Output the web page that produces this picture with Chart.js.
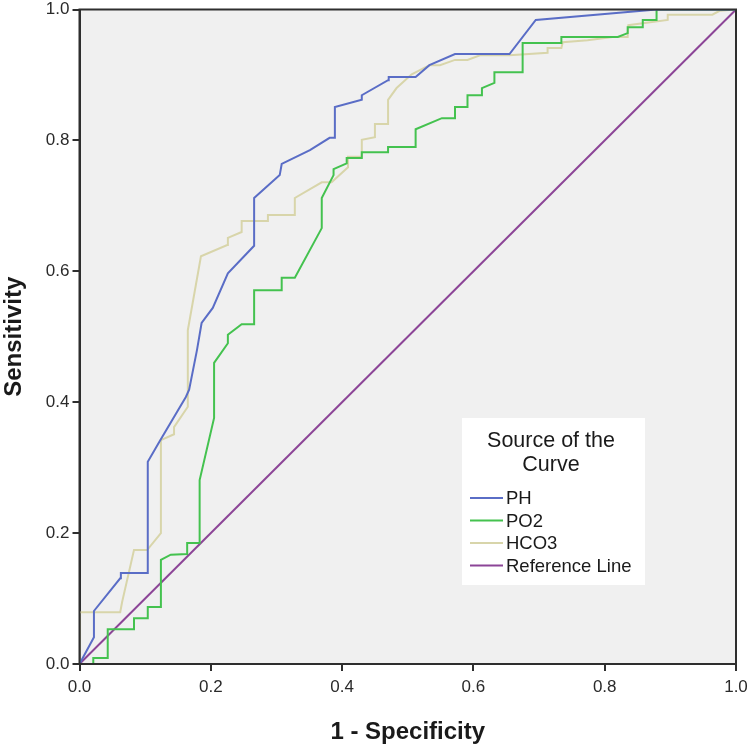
<!DOCTYPE html>
<html>
<head>
<meta charset="utf-8">
<script src="https://cdn.jsdelivr.net/npm/chart.js@4.4.1/dist/chart.umd.min.js"></script>
<style>
  html, body { margin: 0; padding: 0; background: #ffffff; }
  #wrap { width: 750px; height: 747px; position: relative; }
</style>
</head>
<body>
<div id="wrap"><canvas id="c" width="750" height="747"></canvas></div>
<script>
// ---- Data ----
const xTicks = [0.0, 0.2, 0.4, 0.6, 0.8, 1.0];
const yTicks = [0.0, 0.2, 0.4, 0.6, 0.8, 1.0];
const seriesNames = ["PH", "PO2", "HCO3", "Reference Line"];

const phX = [0, 0.022, 0.022, 0.062, 0.063, 0.104, 0.104, 0.123, 0.162, 0.167, 0.179, 0.186, 0.203, 0.226, 0.266, 0.266, 0.305, 0.308, 0.351, 0.381, 0.389, 0.389, 0.430, 0.430, 0.470, 0.471, 0.512, 0.533, 0.572, 0.655, 0.695, 0.879, 1.0];
const phY = [0, 0.041, 0.081, 0.131, 0.139, 0.139, 0.309, 0.342, 0.408, 0.419, 0.480, 0.521, 0.544, 0.597, 0.639, 0.712, 0.747, 0.764, 0.785, 0.804, 0.804, 0.851, 0.862, 0.869, 0.892, 0.897, 0.897, 0.915, 0.932, 0.932, 0.984, 1.0, 1.0];

const po2X = [0, 0.021, 0.021, 0.043, 0.043, 0.083, 0.083, 0.104, 0.104, 0.124, 0.124, 0.139, 0.164, 0.164, 0.183, 0.183, 0.205, 0.205, 0.226, 0.226, 0.247, 0.266, 0.266, 0.308, 0.308, 0.328, 0.369, 0.369, 0.387, 0.387, 0.407, 0.407, 0.430, 0.430, 0.470, 0.470, 0.512, 0.512, 0.552, 0.572, 0.572, 0.591, 0.591, 0.613, 0.613, 0.632, 0.632, 0.675, 0.675, 0.734, 0.734, 0.820, 0.835, 0.835, 0.858, 0.858, 0.879, 0.879, 1.0];
const po2Y = [0, 0, 0.009, 0.009, 0.053, 0.053, 0.070, 0.070, 0.087, 0.087, 0.159, 0.167, 0.168, 0.185, 0.185, 0.281, 0.376, 0.460, 0.490, 0.503, 0.519, 0.519, 0.571, 0.571, 0.590, 0.590, 0.666, 0.712, 0.747, 0.756, 0.765, 0.773, 0.773, 0.782, 0.782, 0.790, 0.790, 0.817, 0.834, 0.834, 0.851, 0.851, 0.869, 0.869, 0.880, 0.888, 0.904, 0.904, 0.949, 0.949, 0.958, 0.958, 0.964, 0.973, 0.973, 0.984, 0.984, 1.0, 1.0];

const hco3X = [0, 0, 0.062, 0.065, 0.083, 0.103, 0.124, 0.124, 0.144, 0.144, 0.165, 0.165, 0.185, 0.225, 0.226, 0.247, 0.247, 0.287, 0.287, 0.328, 0.328, 0.369, 0.384, 0.409, 0.409, 0.430, 0.430, 0.450, 0.450, 0.470, 0.470, 0.483, 0.506, 0.533, 0.549, 0.572, 0.591, 0.610, 0.655, 0.713, 0.713, 0.734, 0.736, 0.774, 0.812, 0.835, 0.836, 0.858, 0.896, 0.896, 0.964, 0.975, 1.0];
const hco3Y = [0, 0.079, 0.079, 0.095, 0.174, 0.174, 0.200, 0.342, 0.351, 0.362, 0.393, 0.510, 0.623, 0.640, 0.651, 0.660, 0.677, 0.677, 0.686, 0.686, 0.712, 0.736, 0.736, 0.759, 0.775, 0.775, 0.801, 0.805, 0.825, 0.825, 0.862, 0.880, 0.901, 0.915, 0.915, 0.923, 0.923, 0.930, 0.930, 0.934, 0.941, 0.941, 0.950, 0.953, 0.958, 0.958, 0.976, 0.979, 0.984, 0.992, 0.992, 0.998, 1.0];

const refX = [0, 1];
const refY = [0, 1];

const colors = ["#5a6dc6", "#44c24f", "#d8d5aa", "#8c4597"];

function pts(xs, ys) { return xs.map((x, i) => ({ x: x, y: ys[i] })); }

const FONT = "'Liberation Sans', Arial, sans-serif";

const bgPlugin = {
  id: 'bg',
  beforeDraw(chart) {
    const a = chart.chartArea, ctx = chart.ctx;
    ctx.save();
    ctx.fillStyle = '#f0f0f0';
    ctx.fillRect(a.left, a.top, a.right - a.left, a.bottom - a.top);
    ctx.restore();
  },
  afterDatasetsDraw(chart) {
    const a = chart.chartArea, ctx = chart.ctx;
    ctx.save();
    ctx.strokeStyle = '#2e2e2e';
    ctx.lineWidth = 2;
    ctx.strokeRect(a.left, a.top, a.right - a.left, a.bottom - a.top);
    ctx.restore();
  }
};

const legendPlugin = {
  id: 'boxLegend',
  afterDraw(chart) {
    const ctx = chart.ctx;
    const bx = 462, by = 418, bw = 183, bh = 167;
    ctx.save();
    ctx.fillStyle = '#ffffff';
    ctx.fillRect(bx, by, bw, bh);
    ctx.fillStyle = '#1a1a1a';
    ctx.textAlign = 'center';
    ctx.textBaseline = 'middle';
    ctx.font = '21.5px ' + FONT;
    ctx.fillText('Source of the', 551, 441);
    ctx.fillText('Curve', 551, 465);
    ctx.font = '18.5px ' + FONT;
    ctx.textAlign = 'left';
    chart.data.datasets.forEach((ds, i) => {
      const y = 498 + i * 22.5;
      ctx.strokeStyle = ds.borderColor;
      ctx.lineWidth = 2;
      ctx.beginPath();
      ctx.moveTo(470, y);
      ctx.lineTo(503, y);
      ctx.stroke();
      ctx.fillStyle = '#1a1a1a';
      ctx.fillText(ds.label, 506, y + 1);
    });
    ctx.restore();
  }
};

const datasets = [
  { label: seriesNames[0], data: pts(phX, phY) },
  { label: seriesNames[1], data: pts(po2X, po2Y) },
  { label: seriesNames[2], data: pts(hco3X, hco3Y) },
  { label: seriesNames[3], data: pts(refX, refY) }
].map((d, i) => Object.assign(d, {
  borderColor: colors[i],
  backgroundColor: colors[i],
  borderWidth: 2,
  showLine: true,
  pointRadius: 0,
  pointHoverRadius: 0,
  tension: 0,
  fill: false
}));

new Chart(document.getElementById('c'), {
  type: 'scatter',
  data: { datasets: datasets },
  options: {
    responsive: false,
    animation: false,
    events: [],
    layout: { padding: { top: 9.5, right: 14, left: 0, bottom: 0 } },
    plugins: { legend: { display: false }, tooltip: { enabled: false } },
    scales: {
      x: {
        type: 'linear', min: 0, max: 1,
        afterBuildTicks(scale) { scale.ticks = xTicks.map(v => ({ value: v })); },
        afterFit(scale) { scale.height = 83; scale.paddingLeft = 0; scale.paddingRight = 0; },
        ticks: {
          color: '#2a2a2a', padding: 6,
          font: { family: FONT, size: 17 },
          callback: v => Number(v).toFixed(1),
          maxRotation: 0, autoSkip: false
        },
        grid: { drawOnChartArea: false, drawTicks: true, tickLength: 7, color: '#2e2e2e', lineWidth: 2 },
        border: { display: true, color: '#2e2e2e', width: 2 },
        title: {
          display: true, text: '1 - Specificity', color: '#1a1a1a',
          font: { family: FONT, size: 24, weight: 'bold' },
          padding: { top: 14, bottom: 0 }
        }
      },
      y: {
        type: 'linear', min: 0, max: 1,
        afterBuildTicks(scale) { scale.ticks = yTicks.map(v => ({ value: v })); },
        afterFit(scale) { scale.width = 79.5; scale.paddingTop = 0; scale.paddingBottom = 0; },
        ticks: {
          color: '#2a2a2a', padding: 3,
          font: { family: FONT, size: 17 },
          callback: v => Number(v).toFixed(1),
          autoSkip: false
        },
        grid: { drawOnChartArea: false, drawTicks: true, tickLength: 7, color: '#2e2e2e', lineWidth: 2 },
        border: { display: true, color: '#2e2e2e', width: 2 },
        title: {
          display: true, text: 'Sensitivity', color: '#1a1a1a',
          font: { family: FONT, size: 24, weight: 'bold' },
          padding: { top: 0, bottom: 8 }
        }
      }
    }
  },
  plugins: [bgPlugin, legendPlugin]
});
</script>
</body>
</html>
